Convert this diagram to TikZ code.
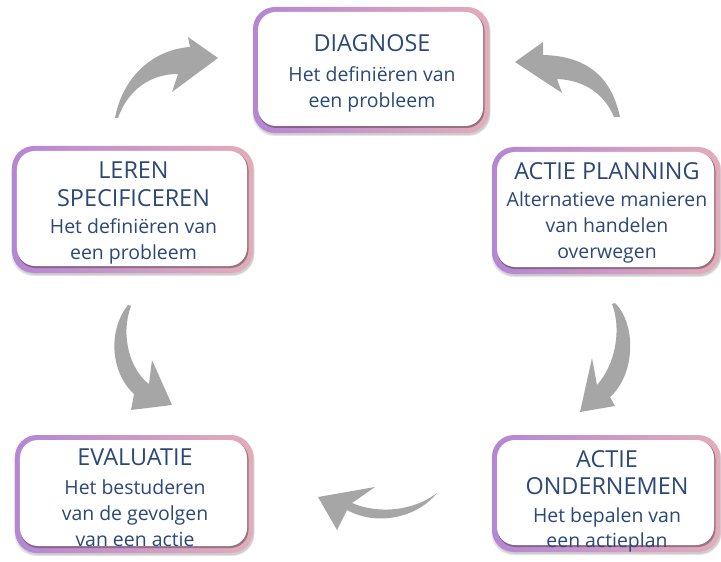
\documentclass[tikz,border=0pt]{standalone}
\usepackage{fontspec}
\setmainfont{Open Sans}
\definecolor{bpurple}{RGB}{180,134,212}
\definecolor{bpink}{RGB}{228,172,186}
\definecolor{txtblue}{RGB}{44,72,118}
\definecolor{arrgray}{RGB}{166,166,166}
\newcommand\titlef{\fontsize{23.5}{28}\selectfont}
\newcommand\subf{\fontsize{19.5}{26}\selectfont}
\tikzset{
  boxshadow/.style={rectangle, rounded corners=22bp, fill=black, fill opacity=0.10, draw=none, inner sep=0pt},
  boxouter/.style={rectangle, rounded corners=22bp, left color=bpurple, right color=bpink, draw=none, inner sep=0pt},
  innershadow/.style={rectangle, rounded corners=18bp, fill=black!70!bpink, fill opacity=0.45, draw=none, inner sep=0pt},
  boxinner/.style={rectangle, rounded corners=18bp, fill=white, draw=none, inner sep=0pt},
  boxtext/.style={align=center, text=txtblue, font=\subf, inner sep=0pt},
  arrowshape/.style={fill=arrgray, draw=none},
}
\newcommand\stagebox[7]{%
  \node[boxshadow, minimum width=#4bp+2bp, minimum height=#5bp+1bp] at (#2+0.5,#3+2.5) {};
  \node[boxshadow, minimum width=#4bp, minimum height=#5bp] at (#2+1,#3+2) {};
  \node[boxouter, minimum width=#4bp, minimum height=#5bp] (#1-frame) at (#2,#3) {};
  \node[innershadow, minimum width=#4bp-10bp, minimum height=#5bp-11bp] at (#2+0.5,#3+0.5) {};
  \node[boxinner, minimum width=#4bp-11bp, minimum height=#5bp-12bp] (#1) at (#2-0.5,#3-1) {};
  \node[boxtext] (#1-text) at (#2+1,#3+#6) {#7};
}
\begin{document}
\begin{tikzpicture}[x=1bp,y=-1bp]
\useasboundingbox[fill=white] (0,0) rectangle (721,562);

\stagebox{diag}{371}{70}{236}{126}{3}{{\titlef DIAGNOSE}\\[4pt]Het definiëren van\\een probleem}
\stagebox{leren}{132.5}{209.5}{241}{127}{3.5}{{\titlef LEREN}\\[2pt]{\titlef SPECIFICEREN}\\[1pt]Het definiëren van\\een probleem}
\stagebox{plan}{606}{210.5}{228}{127}{2.5}{{\titlef ACTIE PLANNING}\\[1pt]Alternatieve manieren\\van handelen\\overwegen}
\stagebox{eval}{134}{494}{238}{118}{4}{{\titlef EVALUATIE}\\[3pt]Het bestuderen\\van de gevolgen\\van een actie}
\stagebox{onder}{606}{493.5}{228}{117}{8}{{\titlef ACTIE}\\[1pt]{\titlef ONDERNEMEN}\\[2pt]Het bepalen van\\een actieplan}

% arrows
\fill[arrowshape] (115,118) .. controls (122,80) and (150,50) .. (190,47) -- (188,37) -- (218,58) -- (172,92) -- (178,74) .. controls (150,74) and (128,90) .. (118,118) -- cycle;
\fill[arrowshape] (620,117) .. controls (612,80) and (590,56) .. (543,55) -- (543,42) -- (515,62) -- (562,93) -- (557,79) .. controls (585,80) and (605,95) .. (614,117) -- cycle;
\fill[arrowshape] (615,303) .. controls (637,325) and (635,375) .. (610,397) -- (615,406) -- (580,412) -- (592,358) -- (597,385) .. controls (615,365) and (622,330) .. (612,304) -- cycle;
\fill[arrowshape] (128,305) .. controls (108,330) and (110,372) .. (134,394) -- (131,410) -- (172,405) -- (152,360) -- (149,384) .. controls (130,370) and (120,335) .. (131,306) -- cycle;
\fill[arrowshape] (437,493) .. controls (420,515) and (380,528) .. (347,510) -- (337,530) -- (318,497) -- (375,487) -- (352,503) .. controls (380,515) and (415,510) .. (437,493) -- cycle;
\end{tikzpicture}
\end{document}
